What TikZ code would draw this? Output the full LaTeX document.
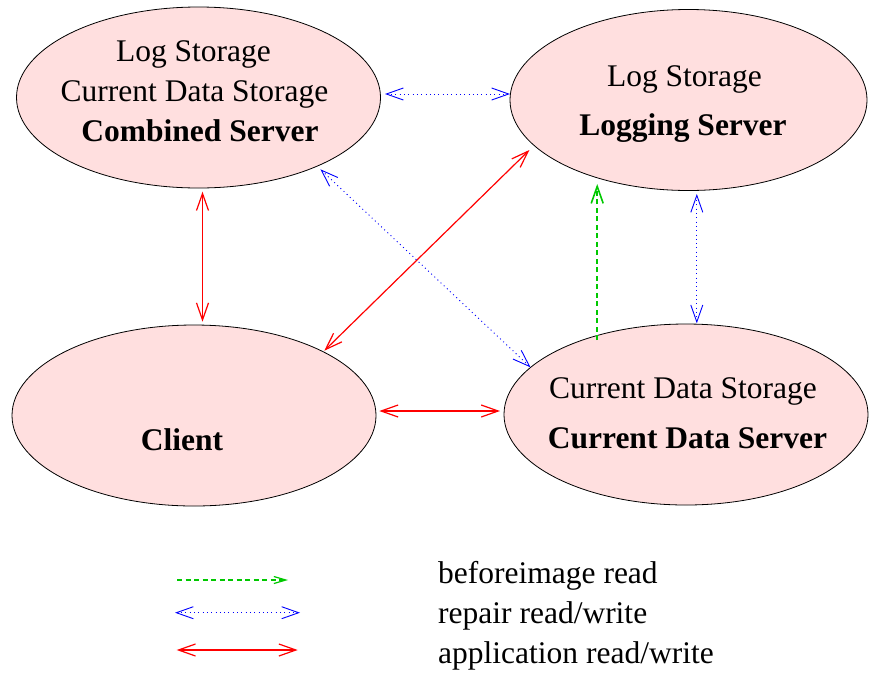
\documentclass[tikz,border=0pt]{standalone}
\usepackage{fontspec}
\setmainfont{Liberation Serif}
\usetikzlibrary{shapes.geometric,arrows.meta}
\definecolor{srvfill}{RGB}{255,223,223}
\definecolor{appred}{RGB}{255,0,0}
\definecolor{repblue}{RGB}{0,0,255}
\definecolor{imggreen}{RGB}{0,200,0}
\tikzset{
  xbarb/.tip={Straight Barb[length=17pt,width=12pt]},
  sbarb/.tip={Straight Barb[length=12pt,width=7pt]},
}
\begin{document}
\begin{tikzpicture}[x=1pt,y=-1pt,
  server/.style={ellipse,draw=black,line width=0.8pt,fill=srvfill,
    inner sep=0pt,outer sep=0pt},
  txt/.style={anchor=base,inner sep=0pt,font=\fontsize{31.5}{38}\selectfont},
  txtb/.style={txt,font=\fontsize{31.5}{38}\selectfont\bfseries},
  legtxt/.style={txt,anchor=base west},
  app/.style={draw=appred,line width=1.2pt,xbarb-xbarb},
  repair/.style={draw=repblue,line width=0.9pt,dash pattern=on 1pt off 3.3pt,xbarb-xbarb},
  before/.style={draw=imggreen,line width=1.6pt,dash pattern=on 5pt off 3.5pt,-xbarb},
]
\useasboundingbox (0,0) rectangle (869,678);

% servers and client
\node[server,minimum width=364pt,minimum height=181pt] (cs) at (198.5,97.5) {};
\node[server,minimum width=357pt,minimum height=181pt] (ls) at (688.5,100) {};
\node[server,minimum width=364pt,minimum height=181pt] (cl) at (194,415.5) {};
\node[server,minimum width=364pt,minimum height=181pt] (cd) at (686,414.5) {};

% labels inside the ellipses
\node[txt]  (csA) at (193.5,61)  {Log Storage};
\node[txt]  (csB) at (194.5,101.7) {Current Data Storage};
\node[txtb] (csC) at (200,141.7) {Combined Server};
\node[txt]  (lsA) at (684.5,86)  {Log Storage};
\node[txtb] (lsB) at (683,135)   {Logging Server};
\node[txtb] (clA) at (182,450)   {Client};
\node[txt]  (cdA) at (683,398)   {Current Data Storage};
\node[txtb] (cdB) at (687.5,448) {Current Data Server};

% connections, tips placed relative to the node centres
\draw[repair] ([xshift=186.5pt,yshift=3.5pt]cs.center) -- ([xshift=-178.5pt,yshift=6pt]ls.center);
\draw[app] ([xshift=4pt,yshift=-94.2pt]cs.center) -- ([xshift=8.5pt,yshift=93.8pt]cl.center);
\draw[app] ([xshift=-159.1pt,yshift=-50pt]ls.center) -- ([xshift=130.3pt,yshift=64.8pt]cl.center);
\draw[repair] ([xshift=121.9pt,yshift=-71.8pt]cs.center) -- ([xshift=-155.5pt,yshift=47.2pt]cd.center);
\draw[before] ([xshift=-88.8pt,yshift=74.5pt]cd.center) -- ([xshift=-91.3pt,yshift=-84pt]ls.center);
\draw[repair] ([xshift=8.3pt,yshift=-94pt]ls.center) -- ([xshift=10.8pt,yshift=91.2pt]cd.center);
\draw[app] ([xshift=185.3pt,yshift=4.5pt]cl.center) -- ([xshift=-186pt,yshift=3.5pt]cd.center);

% legend
\coordinate (g1) at (177,580);   \coordinate (g2) at (288,580);
\coordinate (b1) at (175,612.7); \coordinate (b2) at (300,612.7);
\coordinate (r1) at (176.7,650); \coordinate (r2) at (297.7,650);
\draw[before,line width=1.2pt,-sbarb] (g1) -- (g2);
\draw[repair] (b1) -- (b2);
\draw[app] (r1) -- (r2);
\node[legtxt] (lg1) at (438,583.3) {beforeimage read};
\node[legtxt] (lg2) at (438,623.3) {repair read/write};
\node[legtxt] (lg3) at (438,663.3) {application read/write};
\end{tikzpicture}
\end{document}
